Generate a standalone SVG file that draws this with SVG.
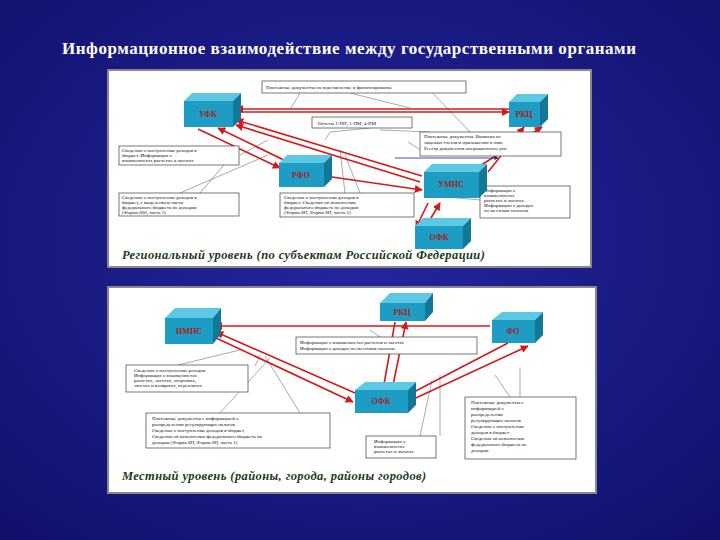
<svg xmlns="http://www.w3.org/2000/svg" width="720" height="540" viewBox="0 0 720 540">
<defs>
<radialGradient id="bg" cx="50%" cy="45%" r="75%"><stop offset="0" stop-color="#2626a0"/><stop offset="1" stop-color="#10106a"/></radialGradient>
<marker id="ar" viewBox="0 0 10 10" refX="9" refY="5" markerWidth="5" markerHeight="5" orient="auto"><path d="M0,0L10,5L0,10z" fill="#d81818"/></marker>
<marker id="ab" viewBox="0 0 10 10" refX="9" refY="5" markerWidth="5" markerHeight="5" orient="auto"><path d="M0,0L10,5L0,10z" fill="#1a1a9a"/></marker>
</defs>
<style>
.fr{fill:#1d9cc4}.tp{fill:#5cc8e4}.sd{fill:#127898}
.bl{font-family:"Liberation Serif",serif;font-size:8px;font-weight:bold;fill:#b01818;text-anchor:middle}
.tb{fill:#fff;stroke:#555;stroke-width:0.8}
.tx{font-family:"Liberation Serif",serif;font-size:5px;fill:#111}
.ln{stroke:#d81818;stroke-width:1.6;fill:none;marker-end:url(#ar)}
.ld{stroke:#555;stroke-width:0.5;fill:none}
.cap{font-family:"Liberation Serif",serif;font-size:12.5px;font-style:italic;font-weight:bold;fill:#1a3a1a;letter-spacing:0.4px}
</style>
<rect width="720" height="540" fill="url(#bg)"/>
<text x="62" y="54" font-family="Liberation Serif,serif" font-size="17" font-weight="bold" fill="#fff" textLength="574">Информационное взаимодействие между государственными органами</text>
<rect x="108" y="70" width="483" height="197" fill="#fff" stroke="#888" stroke-width="2"/>
<rect x="108" y="287" width="488" height="206" fill="#fff" stroke="#888" stroke-width="2"/>
<g id="connectors">
<line class="ln" x1="510" y1="109" x2="236" y2="109"/>
<line class="ln" x1="236" y1="112" x2="509" y2="112"/>
<line class="ln" x1="422" y1="176" x2="236" y2="120"/>
<line class="ln" x1="420" y1="182" x2="236" y2="125"/>
<line class="ln" x1="290" y1="163" x2="218" y2="128"/>
<line class="ln" x1="198" y1="129" x2="280" y2="168"/>
<line class="ln" x1="325" y1="176" x2="422" y2="190"/>
<line class="ln" x1="428" y1="203" x2="416" y2="228"/>
<line class="ln" x1="425" y1="228" x2="440" y2="203"/>
<line class="ln" x1="488" y1="172" x2="524" y2="127"/>
<line class="ln" x1="470" y1="172" x2="542" y2="127"/>
<line x1="395" y1="158" x2="498" y2="158" stroke="#1a1a9a" stroke-width="0.8" marker-end="url(#ab)"/>
<line class="ln" x1="490" y1="326" x2="215" y2="326"/>
<line class="ln" x1="355" y1="393" x2="216" y2="332"/>
<line class="ln" x1="216" y1="338" x2="353" y2="402"/>
<line class="ln" x1="395" y1="322" x2="383" y2="390"/>
<line class="ln" x1="392" y1="390" x2="406" y2="322"/>
<line class="ln" x1="508" y1="343" x2="408" y2="395"/>
<line class="ln" x1="405" y1="403" x2="528" y2="346"/>
<path class="ld" d="M300 93L290 110M350 93L410 108M370 128L330 132L325 140M240 155L268 140M180 193L268 155M200 193L228 160M345 193L340 150M360 193L345 155M430 132L380 130M470 132L425 85M430 156L408 142M480 200L425 195M255 366L260 355M178 365L240 350M220 413L270 358M300 413L265 356M420 436L432 380M440 436L440 375M510 397L495 375M520 397L520 368M380 337L370 330"/>
</g>
<g id="t1"><rect class="tb" x="262" y="81" width="204" height="12"/><text class="tx" x="266" y="89">Платежные документы на перечисление и финансирование</text></g>
<g id="t2"><rect class="tb" x="312" y="117" width="100" height="11"/><text class="tx" x="318" y="125">Отчеты 1-ПП, 1-ПМ, 4-ПМ</text></g>
<g id="t3"><rect class="tb" x="119" y="146" width="120" height="19"/><text class="tx" x="122" y="152">Сведения о поступлении доходов в</text><text class="tx" x="122" y="157">бюджет. Информация о</text><text class="tx" x="122" y="162">взаимозачетах расчетах и льготах</text></g>
<g id="t4"><rect class="tb" x="119" y="193" width="120" height="23"/><text class="tx" x="122" y="199">Сведения о поступлении доходов в</text><text class="tx" x="122" y="204">бюджет, с выделением части</text><text class="tx" x="122" y="209">федерального бюджета по доходам</text><text class="tx" x="122" y="214">(Форма 600, часть 1)</text></g>
<g id="t5"><rect class="tb" x="280" y="193" width="134" height="24"/><text class="tx" x="284" y="199">Сведения о поступлении доходов в</text><text class="tx" x="284" y="204">бюджет. Сведения об исполнении</text><text class="tx" x="284" y="209">федерального бюджета по доходам</text><text class="tx" x="284" y="214">(Форма 8Н, Форма 8Н, часть 1)</text></g>
<g id="t6"><rect class="tb" x="420" y="132" width="141" height="24"/><text class="tx" x="424" y="138">Платежные документы. Выписки из</text><text class="tx" x="424" y="144">лицевых счетов и приложения к ним.</text><text class="tx" x="424" y="150">Реестр документов операционного дня</text></g>
<g id="t7"><rect class="tb" x="480" y="186" width="90" height="32"/><text class="tx" x="484" y="192">Информация о</text><text class="tx" x="484" y="197">взаимозачетах</text><text class="tx" x="484" y="202">расчетах и льготах.</text><text class="tx" x="484" y="207">Информация о доходах</text><text class="tx" x="484" y="212">по местным налогам</text></g>
<g id="n-ufk"><path class="tp" d="M184 101L192 93H241L233 101z"/><path class="sd" d="M233 101L241 93V119L233 127z"/><rect class="fr" x="184" y="101" width="49" height="26"/><text class="bl" x="208" y="117">УФК</text></g>
<g id="n-rkc1"><path class="tp" d="M509 102L517 94H548L540 102z"/><path class="sd" d="M540 102L548 94V119L540 127z"/><rect class="fr" x="509" y="102" width="31" height="25"/><text class="bl" x="524" y="117">РКЦ</text></g>
<g id="n-rfo"><path class="tp" d="M279 163L287 155H332L324 163z"/><path class="sd" d="M324 163L332 155V179L324 187z"/><rect class="fr" x="279" y="163" width="45" height="24"/><text class="bl" x="301" y="178">РФО</text></g>
<g id="n-umns"><path class="tp" d="M424 172L432 164H487L479 172z"/><path class="sd" d="M479 172L487 164V190L479 198z"/><rect class="fr" x="424" y="172" width="55" height="26"/><text class="bl" x="451" y="187">УМНС</text></g>
<g id="n-ofk1"><path class="tp" d="M415 226L423 218H471L463 226z"/><path class="sd" d="M463 226L471 218V241L463 249z"/><rect class="fr" x="415" y="226" width="48" height="23"/><text class="bl" x="439" y="240">ОФК</text></g>
<text class="cap" x="122" y="259">Региональный уровень (по субъектам Российской Федерации)</text>
<g id="t8"><rect class="tb" x="296" y="337" width="181" height="17"/><text class="tx" x="300" y="344">Информация о взаимозачетах расчетов и льготах</text><text class="tx" x="300" y="350">Информация о доходах по местным налогам</text></g>
<g id="t9"><rect class="tb" x="126" y="365" width="122" height="27"/><text class="tx" x="134" y="372">Сведения о поступлении доходов</text><text class="tx" x="134" y="377">Информация о взаимозачетах</text><text class="tx" x="134" y="382">расчетах, льготах, отсрочках,</text><text class="tx" x="134" y="387">зачетах и возвратах, переплатах</text></g>
<g id="t10"><rect class="tb" x="146" y="413" width="184" height="35"/><text class="tx" x="152" y="420">Платежные документы с информацией о</text><text class="tx" x="152" y="426">распределении регулирующих налогов</text><text class="tx" x="152" y="432">Сведения о поступлении доходов в бюджет</text><text class="tx" x="152" y="438">Сведения об исполнении федерального бюджета по</text><text class="tx" x="152" y="444">доходам (Форма 8Н, Форма 8Н, часть 1)</text></g>
<g id="t11"><rect class="tb" x="366" y="436" width="70" height="22"/><text class="tx" x="374" y="443">Информация о</text><text class="tx" x="374" y="448">взаимозачетах</text><text class="tx" x="374" y="453">расчетах и льготах</text></g>
<g id="t12"><rect class="tb" x="465" y="397" width="111" height="62"/><text class="tx" x="471" y="404">Платежные документы с</text><text class="tx" x="471" y="410">информацией о</text><text class="tx" x="471" y="416">распределении</text><text class="tx" x="471" y="422">регулирующих налогов</text><text class="tx" x="471" y="428">Сведения о поступлении</text><text class="tx" x="471" y="434">доходов в бюджет</text><text class="tx" x="471" y="440">Сведения об исполнении</text><text class="tx" x="471" y="446">федерального бюджета по</text><text class="tx" x="471" y="452">доходам</text></g>
<g id="n-imns"><path class="tp" d="M165 318L175 308H221L213 318z"/><path class="sd" d="M213 318L221 308V334L213 344z"/><rect class="fr" x="165" y="318" width="48" height="26"/><text class="bl" x="189" y="334">ИМНС</text></g>
<g id="n-rkc2"><path class="tp" d="M380 303L390 293H433L425 303z"/><path class="sd" d="M425 303L433 293V312L425 321z"/><rect class="fr" x="380" y="303" width="45" height="18"/><text class="bl" x="402" y="315">РКЦ</text></g>
<g id="n-fo"><path class="tp" d="M492 320L502 312H543L535 320z"/><path class="sd" d="M535 320L543 312V335L535 343z"/><rect class="fr" x="492" y="320" width="43" height="23"/><text class="bl" x="513" y="334">ФО</text></g>
<g id="n-ofk2"><path class="tp" d="M355 390L365 382H416L408 390z"/><path class="sd" d="M408 390L416 382V405L408 413z"/><rect class="fr" x="355" y="390" width="53" height="23"/><text class="bl" x="381" y="404">ОФК</text></g>
<text class="cap" x="122" y="480">Местный уровень (районы, города, районы городов)</text>
</svg>
